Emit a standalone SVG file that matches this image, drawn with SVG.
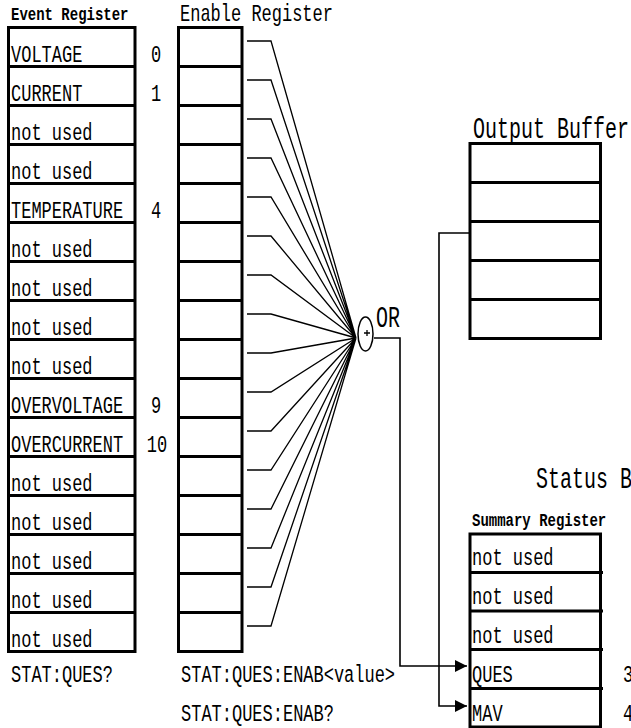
<svg xmlns="http://www.w3.org/2000/svg" width="631" height="728" viewBox="0 0 631 728">
<defs>
<style>
.reg{fill:none;stroke:#000;stroke-width:3}
.sep{stroke:#000;stroke-width:3}
.m{font-family:"Liberation Mono",monospace;font-size:17px;fill:#000}
.tb{font-family:"Liberation Mono",monospace;font-size:14px;font-weight:bold;fill:#000}
.tl{font-family:"Liberation Mono",monospace;font-size:20px;fill:#000}
.fan{fill:none;stroke:#000;stroke-width:1.3}
.con{fill:none;stroke:#000;stroke-width:1.6}
</style>
<marker id="ah" markerUnits="userSpaceOnUse" markerWidth="12" markerHeight="12" refX="12" refY="6" orient="auto">
<path d="M0,0 L12,6 L0,12 z" fill="#000"/>
</marker>
</defs>
<rect width="631" height="728" fill="#fff"/>

<g id="event-register">
<text class="tb" transform="translate(11,20) scale(1,1.25)">Event Register</text>
<rect class="reg" x="8.5" y="27.5" width="126.5" height="624"/>
<path class="sep" d="M8.5,66.5H135M8.5,105.5H135M8.5,144.5H135M8.5,183.5H135M8.5,222.5H135M8.5,261.5H135M8.5,300.5H135M8.5,339.5H135M8.5,378.5H135M8.5,417.5H135M8.5,456.5H135M8.5,495.5H135M8.5,534.5H135M8.5,573.5H135M8.5,612.5H135"/>
<text class="m" transform="translate(11,61.5) scale(1,1.45)">VOLTAGE</text>
<text class="m" transform="translate(11,100.5) scale(1,1.45)">CURRENT</text>
<text class="m" transform="translate(11,139.5) scale(1,1.45)">not used</text>
<text class="m" transform="translate(11,178.5) scale(1,1.45)">not used</text>
<text class="m" transform="translate(11,217.5) scale(1,1.45)">TEMPERATURE</text>
<text class="m" transform="translate(11,256.5) scale(1,1.45)">not used</text>
<text class="m" transform="translate(11,295.5) scale(1,1.45)">not used</text>
<text class="m" transform="translate(11,334.5) scale(1,1.45)">not used</text>
<text class="m" transform="translate(11,373.5) scale(1,1.45)">not used</text>
<text class="m" transform="translate(11,412.5) scale(1,1.45)">OVERVOLTAGE</text>
<text class="m" transform="translate(11,451.5) scale(1,1.45)">OVERCURRENT</text>
<text class="m" transform="translate(11,490.5) scale(1,1.45)">not used</text>
<text class="m" transform="translate(11,529.5) scale(1,1.45)">not used</text>
<text class="m" transform="translate(11,568.5) scale(1,1.45)">not used</text>
<text class="m" transform="translate(11,607.5) scale(1,1.45)">not used</text>
<text class="m" transform="translate(11,646.5) scale(1,1.45)">not used</text>
<text class="m" text-anchor="middle" transform="translate(156,61.5) scale(1,1.45)">0</text>
<text class="m" text-anchor="middle" transform="translate(156,100.5) scale(1,1.45)">1</text>
<text class="m" text-anchor="middle" transform="translate(156,217.5) scale(1,1.45)">4</text>
<text class="m" text-anchor="middle" transform="translate(156,412.5) scale(1,1.45)">9</text>
<text class="m" text-anchor="middle" transform="translate(157,451.5) scale(1,1.45)">10</text>
<text class="m" transform="translate(11,682) scale(1,1.45)">STAT:QUES?</text>
</g>

<g id="enable-register">
<text class="m" transform="translate(180,21) scale(1,1.4)">Enable Register</text>
<rect class="reg" x="178.5" y="27.5" width="63.5" height="624"/>
<path class="sep" d="M178.5,66.5H242M178.5,105.5H242M178.5,144.5H242M178.5,183.5H242M178.5,222.5H242M178.5,261.5H242M178.5,300.5H242M178.5,339.5H242M178.5,378.5H242M178.5,417.5H242M178.5,456.5H242M178.5,495.5H242M178.5,534.5H242M178.5,573.5H242M178.5,612.5H242"/>
<text class="m" transform="translate(181,682) scale(1,1.45)">STAT:QUES:ENAB&lt;value&gt;</text>
<text class="m" transform="translate(181,721) scale(1,1.45)">STAT:QUES:ENAB?</text>
</g>

<g id="or-gate">
<ellipse cx="365.5" cy="334" rx="7.5" ry="17" fill="#fff" stroke="#000" stroke-width="1.5"/>
<path d="M364,333H370M367,330V336" stroke="#000" stroke-width="1.3"/>
<text class="tl" transform="translate(376,327) scale(1,1.45)">OR</text>
</g>

<g id="output-buffer">
<text class="tl" transform="translate(473,138) scale(1,1.5)">Output Buffer</text>
<rect class="reg" x="470" y="143.5" width="130.5" height="195"/>
<path class="sep" d="M470,182.5H602M470,221.5H602M470,260.5H602M470,299.5H602"/>
</g>

<g id="status-byte">
<text class="tl" transform="translate(536,488) scale(1,1.5)">Status B</text>
<text class="tb" transform="translate(472,526) scale(1,1.25)">Summary Register</text>
<rect class="reg" x="470" y="534" width="130.5" height="193"/>
<path class="sep" d="M470,572.5H603M470,611H603M470,649.5H603M470,688.5H603"/>
<text class="m" transform="translate(472,565) scale(1,1.45)">not used</text>
<text class="m" transform="translate(472,604) scale(1,1.45)">not used</text>
<text class="m" transform="translate(472,643) scale(1,1.45)">not used</text>
<text class="m" transform="translate(472,682) scale(1,1.45)">QUES</text>
<text class="m" transform="translate(472,721) scale(1,1.45)">MAV</text>
<text class="m" transform="translate(623,682) scale(1,1.45)">3</text>
<text class="m" transform="translate(623,721) scale(1,1.45)">4</text>
</g>

<g id="connectors">
<path class="fan" d="M247,41H271L356,338M247,80H271L356,338M247,119H271L356,338M247,158H271L356,338M247,197H271L356,338M247,236H271L356,338M247,275H271L356,338M247,314H271L356,338M247,353H271L356,338M247,392H271L356,338M247,431H271L356,338M247,470H271L356,338M247,509H271L356,338M247,548H271L356,338M247,587H271L356,338M247,626H271L356,338"/>
<path class="con" d="M374,338H400V666H467" marker-end="url(#ah)"/>
<path class="con" d="M469,233H439V706H467" marker-end="url(#ah)"/>
</g>
</svg>
